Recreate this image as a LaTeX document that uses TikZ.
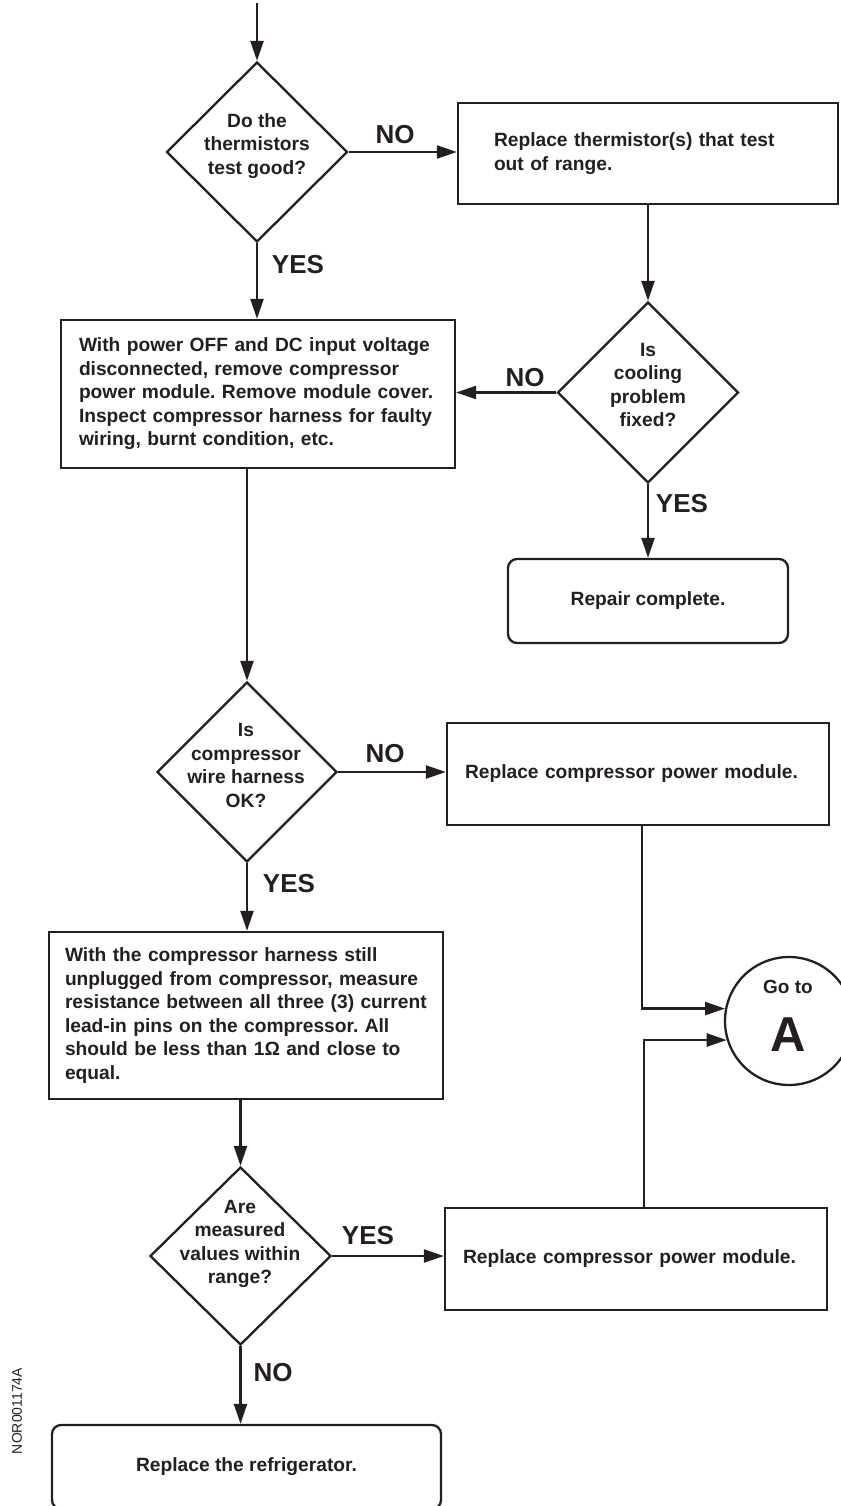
\documentclass[tikz,border=0pt]{standalone}
\usepackage{fontspec}
\setmainfont{Liberation Sans}
\usetikzlibrary{arrows.meta,shapes.geometric}
\definecolor{ink}{RGB}{35,31,32}
\frenchspacing
\begin{document}
\begin{tikzpicture}[x=1pt,y=-1pt,
  every node/.style={text=ink},
  base/.style={draw=ink, line width=2.3pt},
  boxnode/.style={base, rectangle, inner ysep=0pt, align=left, font=\bfseries\fontsize{19.2}{23.5}\selectfont},
  endnode/.style={base, rectangle, rounded corners=9pt, align=center, font=\bfseries\fontsize{19.2}{23.5}\selectfont},
  dia/.style={base, diamond, inner sep=0pt},
  diatext/.style={align=center, inner sep=0pt, font=\bfseries\fontsize{19.2}{23.6}\selectfont},
  lbl/.style={inner sep=0pt, font=\bfseries\fontsize{26}{30}\selectfont},
  arr/.style={draw=ink, line width=2.3pt, -{Triangle[length=20pt,width=13pt]}}
]
\useasboundingbox (0,0) rectangle (840,1506);

% decisions and boxes
\node[dia, minimum width=181pt, minimum height=180pt] (D1) at (257,152) {};
\node[diatext] (D1t) at (257,146) {Do the\\thermistors\\test good?};

\node[boxnode, minimum width=380pt, minimum height=101pt, inner xsep=36pt, text width=308pt] (B1) at (648,153.5) {Replace thermistor(s) that test\\out of range.};

\node[dia, minimum width=181pt, minimum height=181pt] (D2) at (648,392.5) {};
\node[diatext] (D2t) at (648,385) {Is\\cooling\\problem\\fixed?};

\node[boxnode, minimum width=394pt, minimum height=148pt, inner xsep=18pt, text width=358pt] (B2) at (258,394) {With power OFF and DC input voltage\\disconnected, remove compressor\\power module. Remove module cover.\\Inspect compressor harness for faulty\\wiring, burnt condition, etc.};

\node[endnode, minimum width=280pt, minimum height=84pt] (R1) at (648,601) {Repair complete.};

\node[dia, minimum width=180pt, minimum height=180pt] (D3) at (247,772) {};
\node[diatext] (D3t) at (246,765.5) {Is\\compressor\\wire harness\\OK?};

\node[boxnode, minimum width=382pt, minimum height=102pt, inner xsep=18pt, text width=346pt] (B3) at (638,774) {Replace compressor power module.};

\node[boxnode, minimum width=394pt, minimum height=167pt, inner xsep=16pt, text width=362pt] (B4) at (246,1015.5) {With the compressor harness still\\unplugged from compressor, measure\\resistance between all three (3) current\\lead-in pins on the compressor. All\\should be less than 1Ω and close to\\equal.};

\node[dia, minimum width=181pt, minimum height=178pt] (D4) at (240.5,1256) {};
\node[diatext] (D4t) at (240,1244) {Are\\measured\\values within\\range?};

\node[boxnode, minimum width=382pt, minimum height=102pt, inner xsep=18pt, text width=346pt] (B5) at (636,1259) {Replace compressor power module.};

\node[endnode, minimum width=389pt, minimum height=84pt] (R2) at (246.5,1467) {Replace the refrigerator.};

\node[base, circle, minimum size=128pt, inner sep=0pt] (C) at (789,1021) {};
\node[inner sep=0pt, font=\bfseries\fontsize{19}{22}\selectfont] (Ct1) at (788,987) {Go to};
\node[inner sep=0pt, font=\bfseries\fontsize{49}{50}\selectfont] (Ct2) at (788,1035) {A};

\node[rotate=90, inner sep=0pt, font=\fontsize{14}{16}\selectfont] (code) at (17,1411) {NOR001174A};

% labels
\node[lbl] (l1) at (395,135) {NO};
\node[lbl] (l2) at (298,265) {YES};
\node[lbl] (l3) at (525,378) {NO};
\node[lbl] (l4) at (682,504) {YES};
\node[lbl] (l5) at (385,754) {NO};
\node[lbl] (l6) at (289,884) {YES};
\node[lbl] (l7) at (368,1236) {YES};
\node[lbl] (l8) at (273,1373) {NO};

% connectors
\coordinate (top) at (257,3);
\draw[arr] (top) -- (D1.north);
\draw[arr] (D1.east) -- (D1.east -| B1.west);
\draw[arr] (D1.south) -- (D1.south |- B2.north);
\draw[arr] (B1.south) -- (D2.north);
\draw[arr] (D2.west) -- (D2.west -| B2.east);
\draw[arr] (D2.south) -- (R1.north);
\draw[arr] (D3.north |- B2.south) -- (D3.north);
\draw[arr] (D3.east) -- (D3.east -| B3.west);
\draw[arr] (D3.south) -- (D3.south |- B4.north);
\draw[arr] (D4.north |- B4.south) -- (D4.north);
\draw[arr] (D4.east) -- (D4.east -| B5.west);
\draw[arr] (D4.south) -- (D4.south |- R2.north);
\draw[arr] ([xshift=4pt]B3.south) |- (C.169);
\draw[arr] ([xshift=8pt]B5.north) |- (C.197);
\end{tikzpicture}
\end{document}
